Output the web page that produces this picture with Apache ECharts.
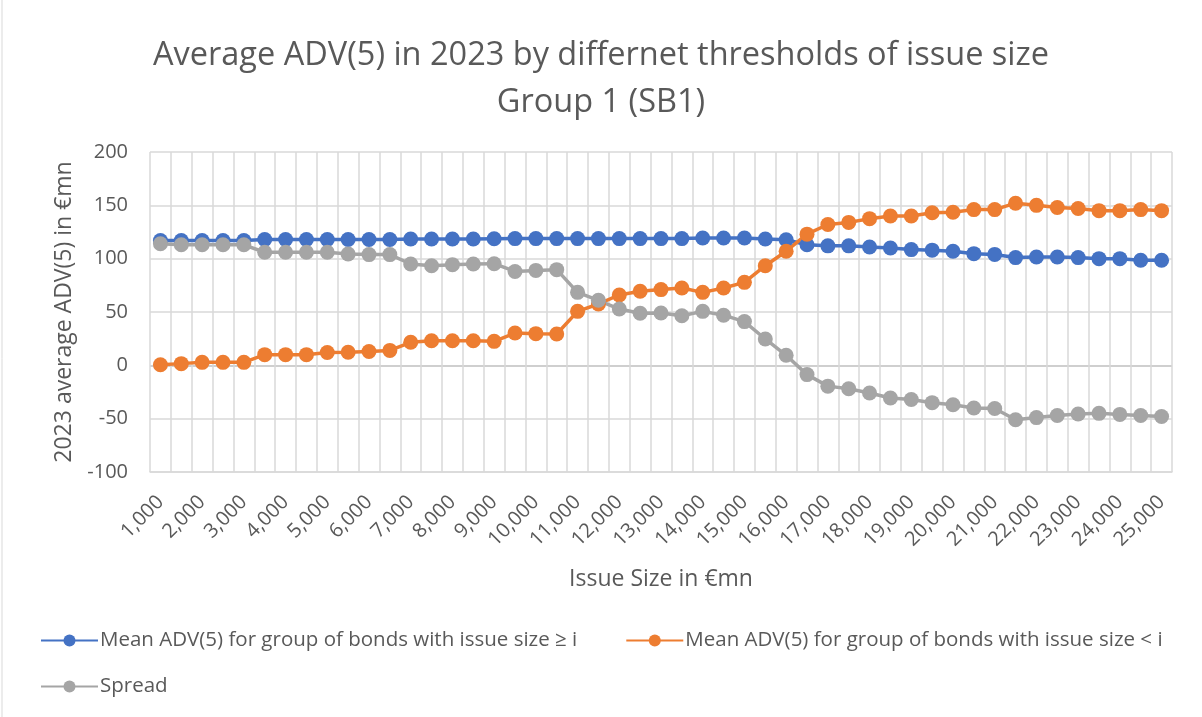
<!DOCTYPE html>
<html>
<head>
<meta charset="utf-8">
<script src="https://cdn.jsdelivr.net/npm/echarts@6/dist/echarts.min.js"></script>
<style>
  html, body { margin: 0; padding: 0; background: #fff; }
  #chart { width: 1202px; height: 717px; }
</style>
</head>
<body>
<div id="chart"></div>
<script>
const issueSizes = [
  1000, 1500, 2000, 2500, 3000, 3500, 4000, 4500, 5000, 5500,
  6000, 6500, 7000, 7500, 8000, 8500, 9000, 9500, 10000, 10500,
  11000, 11500, 12000, 12500, 13000, 13500, 14000, 14500, 15000, 15500,
  16000, 16500, 17000, 17500, 18000, 18500, 19000, 19500, 20000, 20500,
  21000, 21500, 22000, 22500, 23000, 23500, 24000, 24500, 25000
]

const meanAbove = [
  117, 117, 117, 117, 117, 118, 118, 118, 118, 118,
  118, 118, 118.5, 118.5, 118.5, 118.5, 118.7, 118.8, 118.8, 118.8,
  118.8, 118.8, 118.8, 118.8, 118.8, 118.8, 119.4, 119.4, 119.4, 118.4,
  117.8, 113, 112, 112, 111, 110, 108.5, 108, 107, 104.7,
  104, 101, 101.5, 101.5, 101, 100, 100, 98.5, 98.5
]

const meanBelow = [
  0.6, 1.6, 2.8, 2.8, 2.8, 10, 10, 10, 12, 12.2,
  13, 14, 21.6, 23, 23, 23, 22.5, 30.3, 29.7, 29.4,
  50.6, 57.5, 66, 69.4, 71, 72.5, 68.4, 72.5, 77.8, 93.4,
  107, 123, 132, 134, 137.5, 140, 140, 143, 143.5, 146,
  146, 152, 150, 148, 147, 145, 145, 146, 145
]

const spread = [
  114, 113, 113, 113, 113, 106, 106, 106, 106, 104.4,
  103.8, 103.8, 95, 93.4, 94.4, 95, 95.3, 88, 89, 89.7,
  68.4, 61, 52.8, 48.8, 49, 46.5, 50.6, 47, 41, 24.7,
  9.4, -8.7, -19.5, -22, -26, -30.6, -32, -35, -37, -40,
  -40.5, -51, -49, -47, -45.6, -45, -46, -47, -48
]

const yTicks = { min: -100, max: 200, step: 50 }

const seriesNames = [
  'Mean ADV(5) for group of bonds with issue size ≥ i',
  'Mean ADV(5) for group of bonds with issue size < i',
  'Spread'
]
const seriesColors = ['#4472C4', '#ED7D31', '#A5A5A5']

const FONT = '"Open Sans", "Liberation Sans", sans-serif'
const TEXT_COLOR = '#595959'

const chart = echarts.init(document.getElementById('chart'))

const makeLine = (idx, data) => ({
  name: seriesNames[idx],
  type: 'line',
  data: data,
  symbol: 'circle',
  symbolSize: 15,
  showSymbol: true,
  showAllSymbol: true,
  lineStyle: { width: 3.5, color: seriesColors[idx] },
  itemStyle: { color: seriesColors[idx] },
  emphasis: { disabled: true },
  animation: false
})

const legendText = { fontFamily: FONT, fontSize: 20.5, color: TEXT_COLOR, padding: [0, 0, 0, -3] }

const option = {
  backgroundColor: '#fff',
  textStyle: { fontFamily: FONT },
  title: {
    text: 'Average ADV(5) in 2023 by differnet thresholds of issue size\nGroup 1 (SB1)',
    left: 'center',
    top: 27,
    textStyle: {
      fontFamily: FONT,
      fontSize: 32.5,
      fontWeight: 'normal',
      color: TEXT_COLOR,
      lineHeight: 47
    }
  },
  legend: [
    {
      data: [seriesNames[0], seriesNames[1]],
      left: 35,
      top: 625,
      itemWidth: 57,
      itemHeight: 15,
      itemGap: 48,
      textStyle: legendText
    },
    {
      data: [seriesNames[2]],
      left: 35,
      top: 671,
      itemWidth: 57,
      itemHeight: 15,
      textStyle: legendText
    }
  ],
  grid: {
    left: 150,
    right: 30,
    top: 152,
    bottom: 245,
    containLabel: false
  },
  xAxis: {
    type: 'category',
    data: issueSizes.map(v => v.toLocaleString('en-US')),
    boundaryGap: true,
    name: 'Issue Size in €mn',
    nameLocation: 'middle',
    nameGap: 96,
    nameTextStyle: { fontFamily: FONT, fontSize: 23, color: TEXT_COLOR },
    axisLine: { onZero: false, lineStyle: { color: '#d9d9d9', width: 1.5 } },
    axisTick: { show: false },
    axisLabel: {
      interval: 1,
      rotate: 45,
      margin: 27,
      fontFamily: FONT,
      fontSize: 20,
      color: TEXT_COLOR
    },
    splitLine: {
      show: true,
      interval: 0,
      lineStyle: { color: '#d9d9d9', width: 1.5 }
    }
  },
  yAxis: {
    type: 'value',
    min: yTicks.min,
    max: yTicks.max,
    interval: yTicks.step,
    name: '2023 average ADV(5) in €mn',
    nameLocation: 'middle',
    nameGap: 73,
    nameTextStyle: { fontFamily: FONT, fontSize: 23, color: TEXT_COLOR },
    axisLine: { show: false },
    axisTick: { show: false },
    axisLabel: {
      margin: 22,
      fontFamily: FONT,
      fontSize: 20,
      color: TEXT_COLOR
    },
    splitLine: {
      show: true,
      lineStyle: {
        color: ['#d9d9d9', '#d9d9d9', '#bfbfbf', '#d9d9d9', '#d9d9d9', '#d9d9d9', '#d9d9d9'],
        width: 1.5
      }
    }
  },
  graphic: [
    {
      type: 'line',
      shape: { x1: 2, y1: 0, x2: 2, y2: 717 },
      style: { stroke: '#d9d9d9', lineWidth: 1 },
      silent: true
    }
  ],
  series: [
    makeLine(0, meanAbove),
    makeLine(1, meanBelow),
    makeLine(2, spread)
  ]
}

chart.setOption(option)
</script>
</body>
</html>
